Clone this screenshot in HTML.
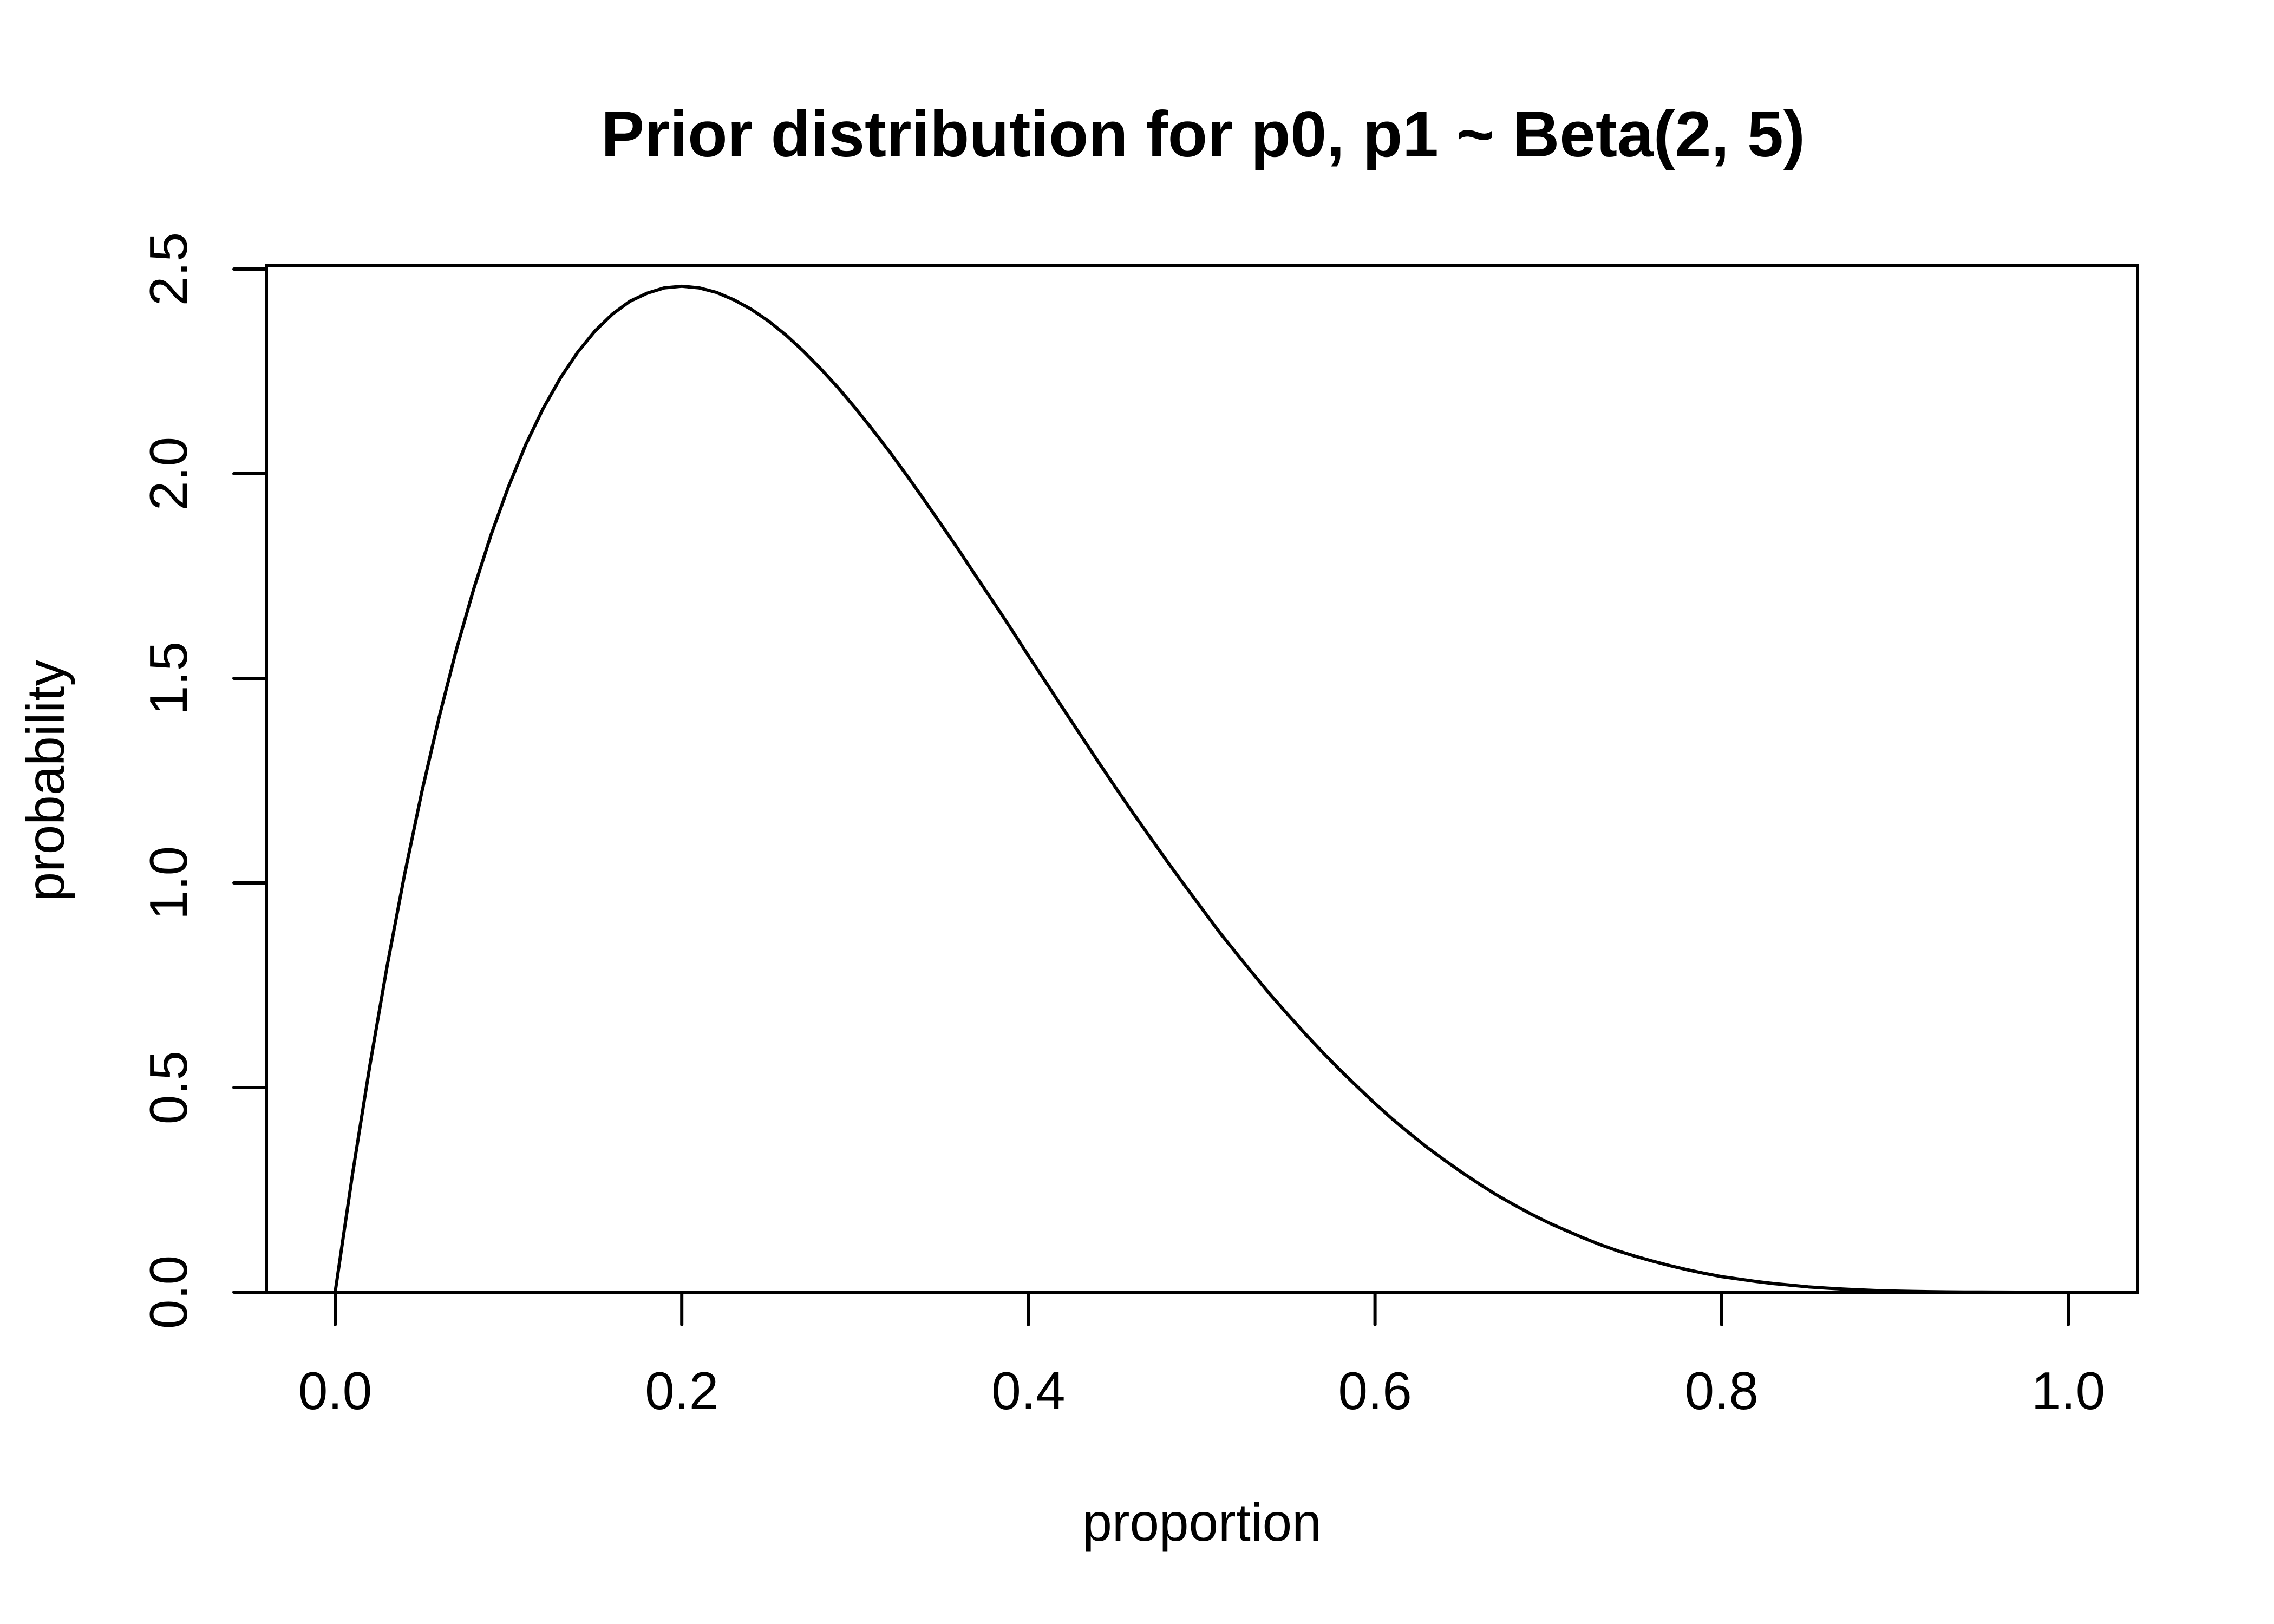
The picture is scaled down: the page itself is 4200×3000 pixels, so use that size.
<!DOCTYPE html>
<html><head><meta charset="utf-8"><style>html,body{margin:0;padding:0;background:#fff}svg{display:block}</style></head>
<body>
<svg id="chart" width="4200" height="3000" viewBox="0 0 4200 3000" xmlns="http://www.w3.org/2000/svg" font-family="Liberation Sans, Arial, sans-serif">
<rect width="4200" height="3000" fill="#fff"/>
<text x="2222" y="289" font-size="120" font-weight="bold" text-anchor="middle">Prior distribution for p0, p1 ~ Beta(2, 5)</text>
<rect x="492" y="490" width="3456" height="1897" fill="none" stroke="#000" stroke-width="6"/>
<g id="xaxis"></g>
<g id="yaxis"></g>
<text x="2220" y="2846" font-size="98" text-anchor="middle">proportion</text>
<text transform="translate(118,1442) rotate(-90)" font-size="98" text-anchor="middle">probability</text>
<g id="series"></g>
</svg>
<script>
const xTicks = [0, 0.2, 0.4, 0.6, 0.8, 1.0];
const xTickLabels = ["0.0", "0.2", "0.4", "0.6", "0.8", "1.0"];
const yTicks = [0, 0.5, 1.0, 1.5, 2.0, 2.5];
const yTickLabels = ["0.0", "0.5", "1.0", "1.5", "2.0", "2.5"];
const proportion = [0,0.01,0.02,0.03,0.04,0.05,0.06,0.07,0.08,0.09,0.10,0.11,0.12,0.13,0.14,0.15,0.16,0.17,0.18,0.19,0.20,0.21,0.22,0.23,0.24,0.25,0.26,0.27,0.28,0.29,0.30,0.31,0.32,0.33,0.34,0.35,0.36,0.37,0.38,0.39,0.40,0.41,0.42,0.43,0.44,0.45,0.46,0.47,0.48,0.49,0.50,0.51,0.52,0.53,0.54,0.55,0.56,0.57,0.58,0.59,0.60,0.61,0.62,0.63,0.64,0.65,0.66,0.67,0.68,0.69,0.70,0.71,0.72,0.73,0.74,0.75,0.76,0.77,0.78,0.79,0.80,0.81,0.82,0.83,0.84,0.85,0.86,0.87,0.88,0.89,0.90,0.91,0.92,0.93,0.94,0.95,0.96,0.97,0.98,0.99,1.0];
const density = [0,0.288,0.553,0.797,1.019,1.222,1.405,1.571,1.719,1.851,1.968,2.071,2.159,2.234,2.297,2.349,2.390,2.421,2.441,2.454,2.458,2.454,2.443,2.425,2.402,2.373,2.339,2.300,2.257,2.211,2.161,2.108,2.053,1.995,1.935,1.874,1.812,1.748,1.685,1.621,1.555,1.491,1.426,1.362,1.298,1.235,1.173,1.113,1.053,0.995,0.938,0.881,0.828,0.776,0.725,0.677,0.630,0.585,0.542,0.501,0.461,0.423,0.388,0.354,0.323,0.293,0.265,0.238,0.214,0.191,0.170,0.151,0.133,0.116,0.101,0.088,0.076,0.065,0.055,0.046,0.038,0.032,0.026,0.021,0.017,0.013,0.010,0.0075,0.0055,0.0039,0.0027,0.0018,0.0012,0.0007,0.0004,0.0002,0.0001,0,0,0,0];

const NS = "http://www.w3.org/2000/svg";
const X = v => 619 + v * (3820 - 619);
const Y = v => 2387 - v * (2387 - 497) / 2.5;
function mk(tag, attrs, parent) {
  const e = document.createElementNS(NS, tag);
  for (const k in attrs) e.setAttribute(k, attrs[k]);
  parent.appendChild(e);
  return e;
}
const xa = document.getElementById('xaxis');
const ya = document.getElementById('yaxis');
const xl = mk('line', {x1: X(xTicks[0]), x2: X(xTicks[xTicks.length-1]), y1: 2387, y2: 2387, stroke: '#000', 'stroke-width': 6, 'stroke-linecap': 'round'}, xa);


xTicks.forEach((t, i) => {
  const l = mk('line', {x1: X(t), x2: X(t), y1: 2387, y2: 2447, stroke: '#000', 'stroke-width': 6, 'stroke-linecap': 'round'}, xa);
  
  
  const tx = mk('text', {x: X(t), y: 2603, 'font-size': 98, 'text-anchor': 'middle'}, xa);
  tx.textContent = xTickLabels[i];
  
  
});
const yl = mk('line', {x1: 492, x2: 492, y1: Y(yTicks[0]), y2: Y(yTicks[yTicks.length-1]), stroke: '#000', 'stroke-width': 6, 'stroke-linecap': 'round'}, ya);


yTicks.forEach((t, i) => {
  const l = mk('line', {x1: 432, x2: 492, y1: Y(t), y2: Y(t), stroke: '#000', 'stroke-width': 6, 'stroke-linecap': 'round'}, ya);
  
  
  const tx = mk('text', {transform: `translate(345,${Y(t)}) rotate(-90)`, 'font-size': 98, 'text-anchor': 'middle'}, ya);
  tx.textContent = yTickLabels[i];
  
  
});
const pts = proportion.map((p, i) => X(p).toFixed(1) + ',' + Y(density[i]).toFixed(1)).join(' ');
const pl = mk('polyline', {points: pts, fill: 'none', stroke: '#000', 'stroke-width': 6, 'stroke-linejoin': 'round'}, document.getElementById('series'));


</script>
</body></html>
